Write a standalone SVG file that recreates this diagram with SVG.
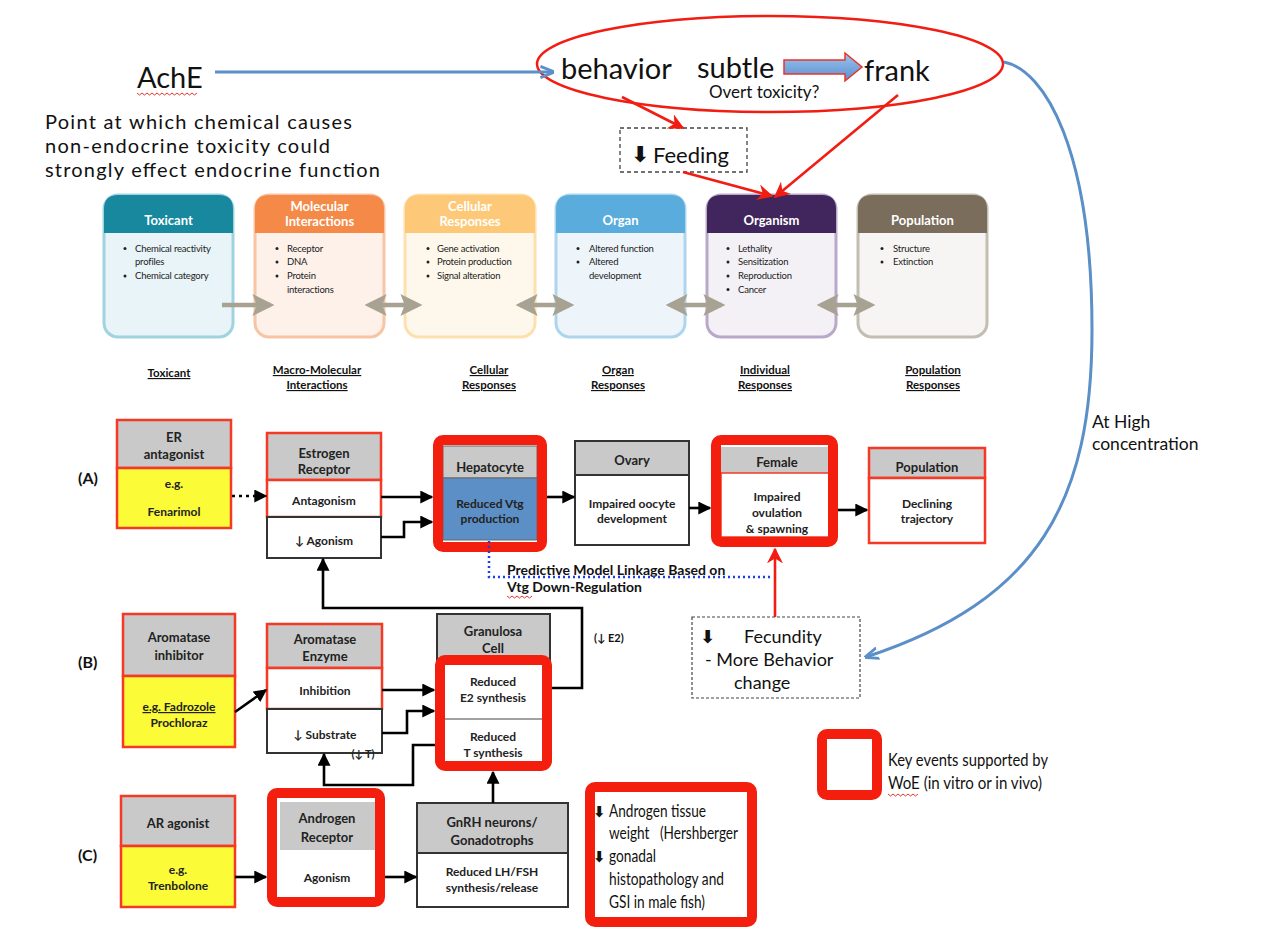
<svg xmlns="http://www.w3.org/2000/svg" width="1262" height="930" viewBox="0 0 1262 930">
<style>
text{font-family:Lato,"Open Sans","DejaVu Sans",sans-serif;fill:#111}
.big{font-size:29px}
.note{font-size:20px}
.hdr{font-size:13px;font-weight:bold;fill:#fff;text-anchor:middle}
.bul{font-size:9.5px;letter-spacing:-0.2px;fill:#222}
.lab{font-size:11.5px;font-weight:bold;text-anchor:middle;text-decoration:underline}
.bx{font-size:13px;font-weight:bold;text-anchor:middle;fill:#222}
.bs{font-size:12px;font-weight:bold;text-anchor:middle;fill:#222}
.row{font-size:16px;font-weight:bold}
.mid{font-size:18px}
.nar{font-size:18px}
.kr{fill:none;stroke:#f41e0f;stroke-width:10;stroke-linejoin:round}
.rb{stroke:#f43a24;stroke-width:2.5}
.kb{stroke:#333;stroke-width:2}
.gh{fill:#c9c9c9}
.yl{fill:#fbfb38}
.con{fill:none;stroke:#000;stroke-width:2.6}
.ga{fill:none;stroke:#a8a293;stroke-width:4.5}
.red{fill:none;stroke:#f21d12;stroke-width:2.6}
.wavy{fill:none;stroke:#e8342c;stroke-width:1}
.arr{font-family:"DejaVu Sans",sans-serif;font-weight:bold}
</style>
<defs>
<marker id="ah" viewBox="0 0 10 10" refX="9" refY="5" markerWidth="13" markerHeight="13" markerUnits="userSpaceOnUse" orient="auto"><path d="M0,0 L10,5 L0,10 z" fill="#000"/></marker>
<marker id="ahr" viewBox="0 0 10 10" refX="9" refY="5" markerWidth="16" markerHeight="16" markerUnits="userSpaceOnUse" orient="auto"><path d="M0,0 L10,5 L0,10 L3,5 z" fill="#f21d12"/></marker>
<marker id="ahb" viewBox="0 0 10 10" refX="9" refY="5" markerWidth="14" markerHeight="14" markerUnits="userSpaceOnUse" orient="auto"><path d="M0,1 L10,5 L0,9" fill="none" stroke="#5b8fc7" stroke-width="2"/></marker>
<marker id="ahg" viewBox="0 0 10 10" refX="8" refY="5" markerWidth="22" markerHeight="22" markerUnits="userSpaceOnUse" orient="auto-start-reverse"><path d="M0,0 L10,5 L0,10 L2,5 z" fill="#a8a293"/></marker>
<linearGradient id="bl" x1="0" y1="0" x2="0" y2="1"><stop offset="0" stop-color="#9cc3ee"/><stop offset="1" stop-color="#5a8fd0"/></linearGradient>
</defs>

<!-- Top section -->
<g id="ache">
<text class="big" x="137" y="88">AchE</text>
<path class="wavy" d="M137,93 l2.5,2 l2.5,-2 l2.5,2 l2.5,-2 l2.5,2 l2.5,-2 l2.5,2 l2.5,-2 l2.5,2 l2.5,-2 l2.5,2 l2.5,-2 l2.5,2 l2.5,-2 l2.5,2 l2.5,-2 l2.5,2 l2.5,-2 l2.5,2 l2.5,-2 l2.5,2 l2.5,-2 l2.5,2 l2.5,-2"/>
</g>
<g id="point-note">
<text class="note" x="45" y="129" textLength="307">Point at which chemical causes</text>
<text class="note" x="45" y="153" textLength="285">non-endocrine toxicity could</text>
<text class="note" x="45" y="177" textLength="335">strongly effect endocrine function</text>
</g>
<g id="behavior-ellipse">
<ellipse cx="770" cy="64" rx="233" ry="48" fill="none" stroke="#f21d12" stroke-width="2.5"/>
<text class="big" x="561" y="79">behavior</text>
<text class="big" x="697" y="78">subtle</text>
<path d="M784,60 H845 V53 L862,67 L845,81 V74 H784 Z" fill="url(#bl)" stroke="#e8342c" stroke-width="1.5"/>
<text class="big" x="864" y="81">frank</text>
<text x="709" y="98" style="font-size:17px">Overt toxicity?</text>
</g>
<g id="feeding">
<rect x="620" y="128" width="127" height="44" fill="#fff" stroke="#444" stroke-width="1.3" stroke-dasharray="4,3"/>
<text class="arr" x="631" y="162" style="font-size:22px">⬇</text>
<text x="653" y="163" style="font-size:22px">Feeding</text>
</g>

<!-- AOP framework boxes -->
<g id="aop-toxicant">
<rect x="104" y="195" width="129" height="142" rx="14" fill="#e8f4f7" stroke="#9ed3df" stroke-width="3"/>
<path d="M104,233 V209 Q104,195 118,195 H219 Q233,195 233,209 V233 Z" fill="#17889e"/>
<text class="hdr" x="168.5" y="225">Toxicant</text>
<circle cx="125" cy="248.5" r="1.5" fill="#222"/><circle cx="125" cy="276" r="1.5" fill="#222"/>
<text class="bul" x="135" y="251.5">Chemical reactivity</text>
<text class="bul" x="135" y="265">profiles</text>
<text class="bul" x="135" y="279">Chemical category</text>
</g>
<g id="aop-molecular">
<rect x="255" y="195" width="129" height="142" rx="14" fill="#fdf1ea" stroke="#f8c4a4" stroke-width="3"/>
<path d="M255,233 V209 Q255,195 269,195 H370 Q384,195 384,209 V233 Z" fill="#f58a48"/>
<text class="hdr" x="319.5" y="211">Molecular</text>
<text class="hdr" x="319.5" y="226">Interactions</text>
<circle cx="277" cy="248.5" r="1.5" fill="#222"/><circle cx="277" cy="262" r="1.5" fill="#222"/><circle cx="277" cy="276" r="1.5" fill="#222"/>
<text class="bul" x="287" y="251.5">Receptor</text>
<text class="bul" x="287" y="265">DNA</text>
<text class="bul" x="287" y="279">Protein</text>
<text class="bul" x="287" y="292.5">interactions</text>
</g>
<g id="aop-cellular">
<rect x="405" y="195" width="130" height="142" rx="14" fill="#fef8ec" stroke="#fde0ae" stroke-width="3"/>
<path d="M405,233 V209 Q405,195 419,195 H521 Q535,195 535,209 V233 Z" fill="#fdc978"/>
<text class="hdr" x="470" y="211">Cellular</text>
<text class="hdr" x="470" y="226">Responses</text>
<circle cx="428" cy="248.5" r="1.5" fill="#222"/><circle cx="428" cy="262" r="1.5" fill="#222"/><circle cx="428" cy="276" r="1.5" fill="#222"/>
<text class="bul" x="437" y="251.5">Gene activation</text>
<text class="bul" x="437" y="265">Protein production</text>
<text class="bul" x="437" y="279">Signal alteration</text>
</g>
<g id="aop-organ">
<rect x="556" y="195" width="129" height="142" rx="14" fill="#eef5fa" stroke="#aed5ee" stroke-width="3"/>
<path d="M556,233 V209 Q556,195 570,195 H671 Q685,195 685,209 V233 Z" fill="#59acdc"/>
<text class="hdr" x="620.5" y="225">Organ</text>
<circle cx="578" cy="248.5" r="1.5" fill="#222"/><circle cx="578" cy="262" r="1.5" fill="#222"/>
<text class="bul" x="589" y="251.5">Altered function</text>
<text class="bul" x="589" y="265">Altered</text>
<text class="bul" x="589" y="279">development</text>
</g>
<g id="aop-organism">
<rect x="707" y="195" width="129" height="142" rx="14" fill="#f4f1f6" stroke="#b9a8c8" stroke-width="3"/>
<path d="M707,233 V209 Q707,195 721,195 H822 Q836,195 836,209 V233 Z" fill="#41265e"/>
<text class="hdr" x="771.5" y="225">Organism</text>
<circle cx="728" cy="248.5" r="1.5" fill="#222"/><circle cx="728" cy="262" r="1.5" fill="#222"/><circle cx="728" cy="276" r="1.5" fill="#222"/><circle cx="728" cy="289.5" r="1.5" fill="#222"/>
<text class="bul" x="738" y="251.5">Lethality</text>
<text class="bul" x="738" y="265">Sensitization</text>
<text class="bul" x="738" y="279">Reproduction</text>
<text class="bul" x="738" y="292.5">Cancer</text>
</g>
<g id="aop-population">
<rect x="858" y="195" width="129" height="142" rx="14" fill="#f6f5f3" stroke="#c4bdb1" stroke-width="3"/>
<path d="M858,233 V209 Q858,195 872,195 H973 Q987,195 987,209 V233 Z" fill="#7a6d5b"/>
<text class="hdr" x="922.5" y="225">Population</text>
<circle cx="882" cy="248.5" r="1.5" fill="#222"/><circle cx="882" cy="262" r="1.5" fill="#222"/>
<text class="bul" x="893" y="251.5">Structure</text>
<text class="bul" x="893" y="265">Extinction</text>
</g>

<!-- Level labels -->
<g id="level-labels">
<text class="lab" x="169" y="377">Toxicant</text>
<text class="lab" x="317" y="374">Macro-Molecular</text>
<text class="lab" x="317" y="389">Interactions</text>
<text class="lab" x="489" y="374">Cellular</text>
<text class="lab" x="489" y="389">Responses</text>
<text class="lab" x="618" y="374">Organ</text>
<text class="lab" x="618" y="389">Responses</text>
<text class="lab" x="765" y="374">Individual</text>
<text class="lab" x="765" y="389">Responses</text>
<text class="lab" x="933" y="374">Population</text>
<text class="lab" x="933" y="389">Responses</text>
</g>

<!-- Row labels -->
<g id="row-labels">
<text class="row" x="78" y="484">(A)</text>
<text class="row" x="78" y="668">(B)</text>
<text class="row" x="78" y="861">(C)</text>
</g>

<!-- Row A -->
<g id="er-antagonist">
<rect class="gh rb" x="117" y="420" width="114" height="48"/>
<rect class="yl rb" x="117" y="468" width="114" height="60"/>
<text class="bx" x="174" y="442">ER</text>
<text class="bx" x="174" y="459">antagonist</text>
<text class="bs" x="174" y="488">e.g.</text>
<text class="bs" x="174" y="516">Fenarimol</text>
</g>
<g id="estrogen-receptor">
<rect class="gh rb" x="267" y="433" width="114" height="47"/>
<rect fill="#fff" class="rb" x="267" y="480" width="114" height="37"/>
<rect fill="#fff" class="kb" x="267" y="517" width="114" height="41"/>
<text class="bx" x="324" y="458">Estrogen</text>
<text class="bx" x="324" y="474">Receptor</text>
<text class="bs" x="324" y="505">Antagonism</text>
<text class="bs" x="324" y="545">↓ Agonism</text>
</g>
<g id="hepatocyte">
<rect x="443" y="446" width="94" height="32" fill="#c9c9c9" stroke="#666" stroke-width="1"/>
<rect x="443" y="478" width="94" height="62" fill="#5b8fc6" stroke="#666" stroke-width="1"/>
<rect class="kr" x="438" y="440" width="104" height="107" rx="5"/>
<text class="bx" x="490" y="472">Hepatocyte</text>
<text class="bs" x="490" y="508">Reduced Vtg</text>
<text class="bs" x="490" y="523">production</text>
</g>
<g id="ovary">
<rect class="gh kb" x="575" y="441" width="114" height="34"/>
<rect fill="#fff" class="kb" x="575" y="475" width="114" height="70"/>
<text class="bx" x="632" y="465">Ovary</text>
<text class="bs" x="632" y="508">Impaired oocyte</text>
<text class="bs" x="632" y="523">development</text>
</g>
<g id="female">
<rect x="721" y="447" width="112" height="26" fill="#c9c9c9"/>
<rect x="721" y="473" width="112" height="64" fill="#fff" stroke="#f43a24" stroke-width="1.5"/>
<rect class="kr" x="716" y="440" width="117" height="102" rx="5"/>
<text class="bx" x="777" y="467">Female</text>
<text class="bs" x="777" y="501">Impaired</text>
<text class="bs" x="777" y="517">ovulation</text>
<text class="bs" x="777" y="533">&amp; spawning</text>
</g>
<g id="population">
<rect class="gh rb" x="869" y="448" width="116" height="30"/>
<rect fill="#fff" class="rb" x="869" y="478" width="116" height="65"/>
<text class="bx" x="927" y="472">Population</text>
<text class="bs" x="927" y="508">Declining</text>
<text class="bs" x="927" y="523">trajectory</text>
</g>
<g id="predictive-note">
<text x="507" y="575" style="font-size:14px;font-weight:bold">Predictive Model Linkage Based on</text>
<text x="507" y="592" style="font-size:14px;font-weight:bold">Vtg Down-Regulation</text>
<path class="wavy" d="M507,596 l2.5,2 l2.5,-2 l2.5,2 l2.5,-2 l2.5,2 l2.5,-2 l2.5,2 l2.5,-2 l2.5,2 l2.5,-2"/>
</g>
<g id="fecundity">
<rect x="692" y="617" width="168" height="81" fill="#fff" stroke="#444" stroke-width="1.2" stroke-dasharray="3,2"/>
<text class="arr" x="700" y="643" style="font-size:18px">⬇</text>
<text class="mid" x="744" y="643">Fecundity</text>
<text class="mid" x="705" y="666">- More Behavior</text>
<text class="mid" x="734" y="689">change</text>
</g>
<g id="high-conc">
<text x="1092" y="428" style="font-size:17.5px">At High</text>
<text x="1092" y="450" style="font-size:17.5px">concentration</text>
</g>

<!-- Row B -->
<g id="aromatase-inhibitor">
<rect class="gh rb" x="123" y="614" width="112" height="62"/>
<rect class="yl rb" x="123" y="676" width="112" height="71"/>
<text class="bx" x="179" y="642">Aromatase</text>
<text class="bx" x="179" y="660">inhibitor</text>
<text class="bs" x="179" y="711" style="text-decoration:underline">e.g. Fadrozole</text>
<text class="bs" x="179" y="727">Prochloraz</text>
</g>
<g id="aromatase-enzyme">
<rect class="gh rb" x="267" y="624" width="115" height="44"/>
<rect fill="#fff" class="rb" x="267" y="668" width="115" height="41"/>
<rect fill="#fff" class="kb" x="267" y="709" width="115" height="44"/>
<text class="bx" x="325" y="644">Aromatase</text>
<text class="bx" x="325" y="661">Enzyme</text>
<text class="bs" x="325" y="695">Inhibition</text>
<text class="bs" x="325" y="739">↓ Substrate</text>
<text class="bs" x="363" y="758" style="font-size:11px">(↓ T)</text>
</g>
<g id="granulosa">
<rect class="gh kb" x="437" y="614" width="113" height="46"/>
<rect x="445" y="665" width="97" height="96" fill="#fff"/>
<line x1="445" y1="719" x2="542" y2="719" stroke="#444" stroke-width="1.2"/>
<rect class="kr" x="440" y="660" width="107" height="106" rx="5"/>
<text class="bx" x="493" y="636">Granulosa</text>
<text class="bx" x="493" y="653">Cell</text>
<text class="bs" x="493" y="686">Reduced</text>
<text class="bs" x="493" y="702">E2 synthesis</text>
<text class="bs" x="493" y="741">Reduced</text>
<text class="bs" x="493" y="757">T synthesis</text>
</g>
<g id="e2-note"><text x="594" y="642" style="font-size:11px;font-weight:bold">(↓ E2)</text></g>

<!-- Row C -->
<g id="ar-agonist">
<rect class="gh rb" x="121" y="796" width="114" height="50"/>
<rect class="yl rb" x="121" y="846" width="114" height="61"/>
<text class="bx" x="178" y="828">AR agonist</text>
<text class="bs" x="178" y="874">e.g.</text>
<text class="bs" x="178" y="890">Trenbolone</text>
</g>
<g id="androgen-receptor">
<rect x="280" y="802" width="95" height="48" fill="#c9c9c9"/>
<rect x="280" y="850" width="95" height="45" fill="#fff"/>
<rect class="kr" x="272" y="793" width="108" height="109" rx="5"/>
<text class="bx" x="327" y="823">Androgen</text>
<text class="bx" x="327" y="842">Receptor</text>
<text class="bs" x="327" y="882">Agonism</text>
</g>
<g id="gnrh">
<rect class="gh kb" x="417" y="803" width="151" height="50"/>
<rect fill="#fff" class="kb" x="417" y="853" width="151" height="54"/>
<text class="bx" x="492" y="827">GnRH neurons/</text>
<text class="bx" x="492" y="845">Gonadotrophs</text>
<text class="bs" x="492" y="876">Reduced LH/FSH</text>
<text class="bs" x="492" y="892">synthesis/release</text>
</g>
<g id="androgen-tissue">
<rect class="kr" x="590" y="787" width="162" height="135" rx="5" fill="#fff"/>
<text class="arr" x="593" y="817" style="font-size:15px">⬇</text>
<text class="nar" x="609" y="817" textLength="97" lengthAdjust="spacingAndGlyphs">Androgen tissue</text>
<text class="nar" x="609" y="839" textLength="129" lengthAdjust="spacingAndGlyphs" xml:space="preserve">weight   (Hershberger</text>
<text class="arr" x="593" y="862" style="font-size:15px">⬇</text>
<text class="nar" x="609" y="862" textLength="47" lengthAdjust="spacingAndGlyphs">gonadal</text>
<text class="nar" x="609" y="885" textLength="115" lengthAdjust="spacingAndGlyphs">histopathology and</text>
<text class="nar" x="609" y="908" textLength="96" lengthAdjust="spacingAndGlyphs">GSI in male fish)</text>
</g>
<g id="legend">
<rect class="kr" x="822" y="734" width="55" height="61" rx="5" fill="#fff"/>
<text class="nar" x="888" y="766" textLength="160" lengthAdjust="spacingAndGlyphs">Key events supported by</text>
<text class="nar" x="888" y="789" textLength="154" lengthAdjust="spacingAndGlyphs">WoE (in vitro or in vivo)</text>
<path class="wavy" d="M888,794 l2.5,2 l2.5,-2 l2.5,2 l2.5,-2 l2.5,2 l2.5,-2 l2.5,2 l2.5,-2 l2.5,2 l2.5,-2 l2.5,2 l2.5,-2"/>
</g>

<!-- Connectors -->
<g id="connectors">
<path d="M215,72 H553" fill="none" stroke="#5b8fc7" stroke-width="3" marker-end="url(#ahb)"/>
<path d="M1004,62 C1045,70 1092,150 1092,330 C1092,500 1040,600 866,657" fill="none" stroke="#5b8fc7" stroke-width="3" marker-end="url(#ahb)"/>
<path class="red" d="M622,97 L683,128" marker-end="url(#ahr)"/>
<path class="red" d="M898,95 L775,197" marker-end="url(#ahr)"/>
<path class="red" d="M683,172 L772,196" marker-end="url(#ahr)"/>
<path class="red" d="M775,617 V549" marker-end="url(#ahr)"/>
<path d="M489,541 V577 H772" fill="none" stroke="#1e3fe6" stroke-width="2.5" stroke-dasharray="2,3"/>

<path class="ga" d="M222,305 H270" marker-end="url(#ahg)"/>
<path class="ga" d="M369,305 H418" marker-start="url(#ahg)" marker-end="url(#ahg)"/>
<path class="ga" d="M520,305 H570" marker-start="url(#ahg)" marker-end="url(#ahg)"/>
<path class="ga" d="M670,305 H721" marker-start="url(#ahg)" marker-end="url(#ahg)"/>
<path class="ga" d="M821,305 H871" marker-start="url(#ahg)" marker-end="url(#ahg)"/>

<path class="con" d="M232,496 H266" stroke-dasharray="3,4" marker-end="url(#ah)"/>
<path class="con" d="M381,497 H432" marker-end="url(#ah)"/>
<path class="con" d="M381,537 H404 V522 H432" marker-end="url(#ah)"/>
<path class="con" d="M547,497 H574" marker-end="url(#ah)"/>
<path class="con" d="M689,508 H710" marker-end="url(#ah)"/>
<path class="con" d="M838,510 H867" marker-end="url(#ah)"/>
<path class="con" d="M235,712 L266,690" marker-end="url(#ah)"/>
<path class="con" d="M382,690 H434" marker-end="url(#ah)"/>
<path class="con" d="M382,733 H407 V711 H434" marker-end="url(#ah)"/>
<path class="con" d="M552,688 H582 V608 H323 V559" marker-end="url(#ah)"/>
<path class="con" d="M435,745 H413 V785 H324 V754" marker-end="url(#ah)"/>
<path class="con" d="M235,877 H266" marker-end="url(#ah)"/>
<path class="con" d="M385,877 H416" marker-end="url(#ah)"/>
<path class="con" d="M493,803 V772" marker-end="url(#ah)"/>
</g>
</svg>
